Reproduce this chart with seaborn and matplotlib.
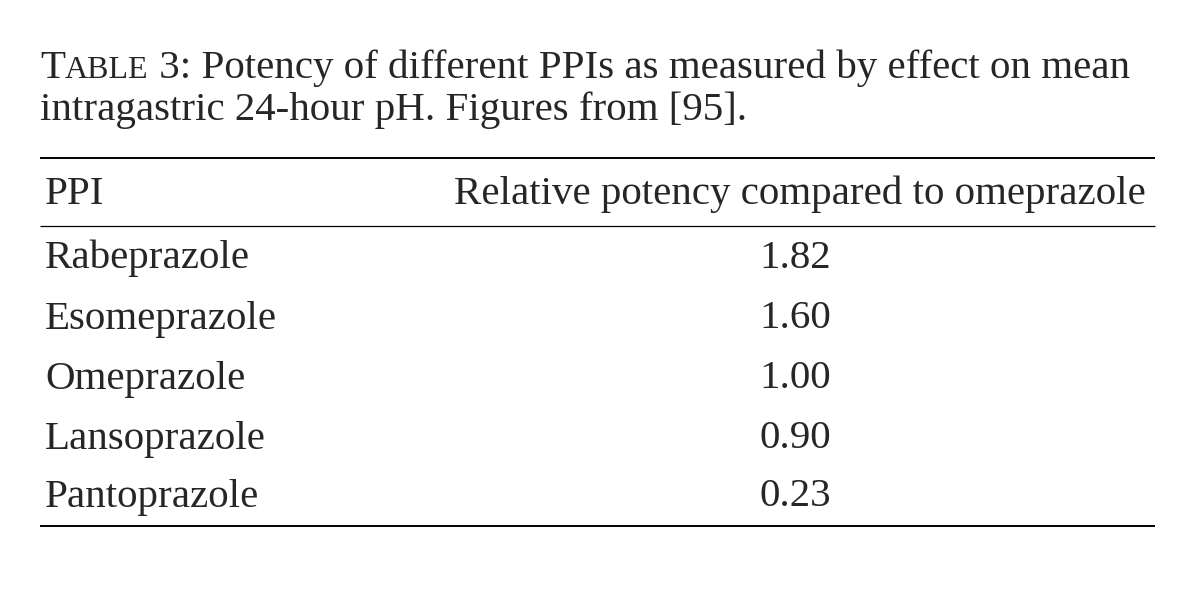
import matplotlib
matplotlib.use("Agg")
import matplotlib.pyplot as plt
import seaborn as sns

# table data
ppis = ['Rabeprazole', 'Esomeprazole', 'Omeprazole', 'Lansoprazole', 'Pantoprazole']
potency = [1.82, 1.60, 1.00, 0.90, 0.23]
headers = ['PPI', 'Relative potency compared to omeprazole']

sns.set_theme(style='white')
plt.rcParams['font.family'] = ['Liberation Serif', 'DejaVu Serif']

fig = plt.figure(figsize=(12, 6.05), dpi=100)
ax = fig.add_axes([0, 0, 1, 1])
ax.set_xlim(0, 1200)
ax.set_ylim(605, 0)
ax.axis('off')

fs = 29.5
# caption with small-caps "Table"
t = ax.text(40, 78, 'T', fontsize=fs, va='baseline', ha='left')
fig.canvas.draw()
bb = t.get_window_extent()
t2 = ax.text(40 + bb.width, 78, 'ABLE', fontsize=fs * 0.78, va='baseline', ha='left')
fig.canvas.draw()
bb2 = t2.get_window_extent()
ax.text(40 + bb.width + bb2.width, 78,
        ' 3: Potency of different PPIs as measured by effect on mean',
        fontsize=fs, va='baseline', ha='left')
ax.text(40, 120, 'intragastric 24-hour pH. Figures from [95].',
        fontsize=fs, va='baseline', ha='left')

x0, x1, xv = 40, 1155, 800
ax.hlines([158, 526], x0, x1, color='black', lw=1.4)
ax.hlines(226, x0, x1, color='black', lw=0.9)

ax.text(45, 194, headers[0], fontsize=fs, va='center', ha='left')
ax.text(xv, 194, headers[1], fontsize=fs, va='center', ha='center')

row_y = [258, 319, 379, 439, 497]
for name, val, y in zip(ppis, potency, row_y):
    ax.text(45, y, name, fontsize=fs, va='center', ha='left')
    ax.text(xv - 5, y, f'{val:.2f}', fontsize=fs, va='center', ha='center')

fig.savefig('out.png', dpi=100, facecolor='white')
